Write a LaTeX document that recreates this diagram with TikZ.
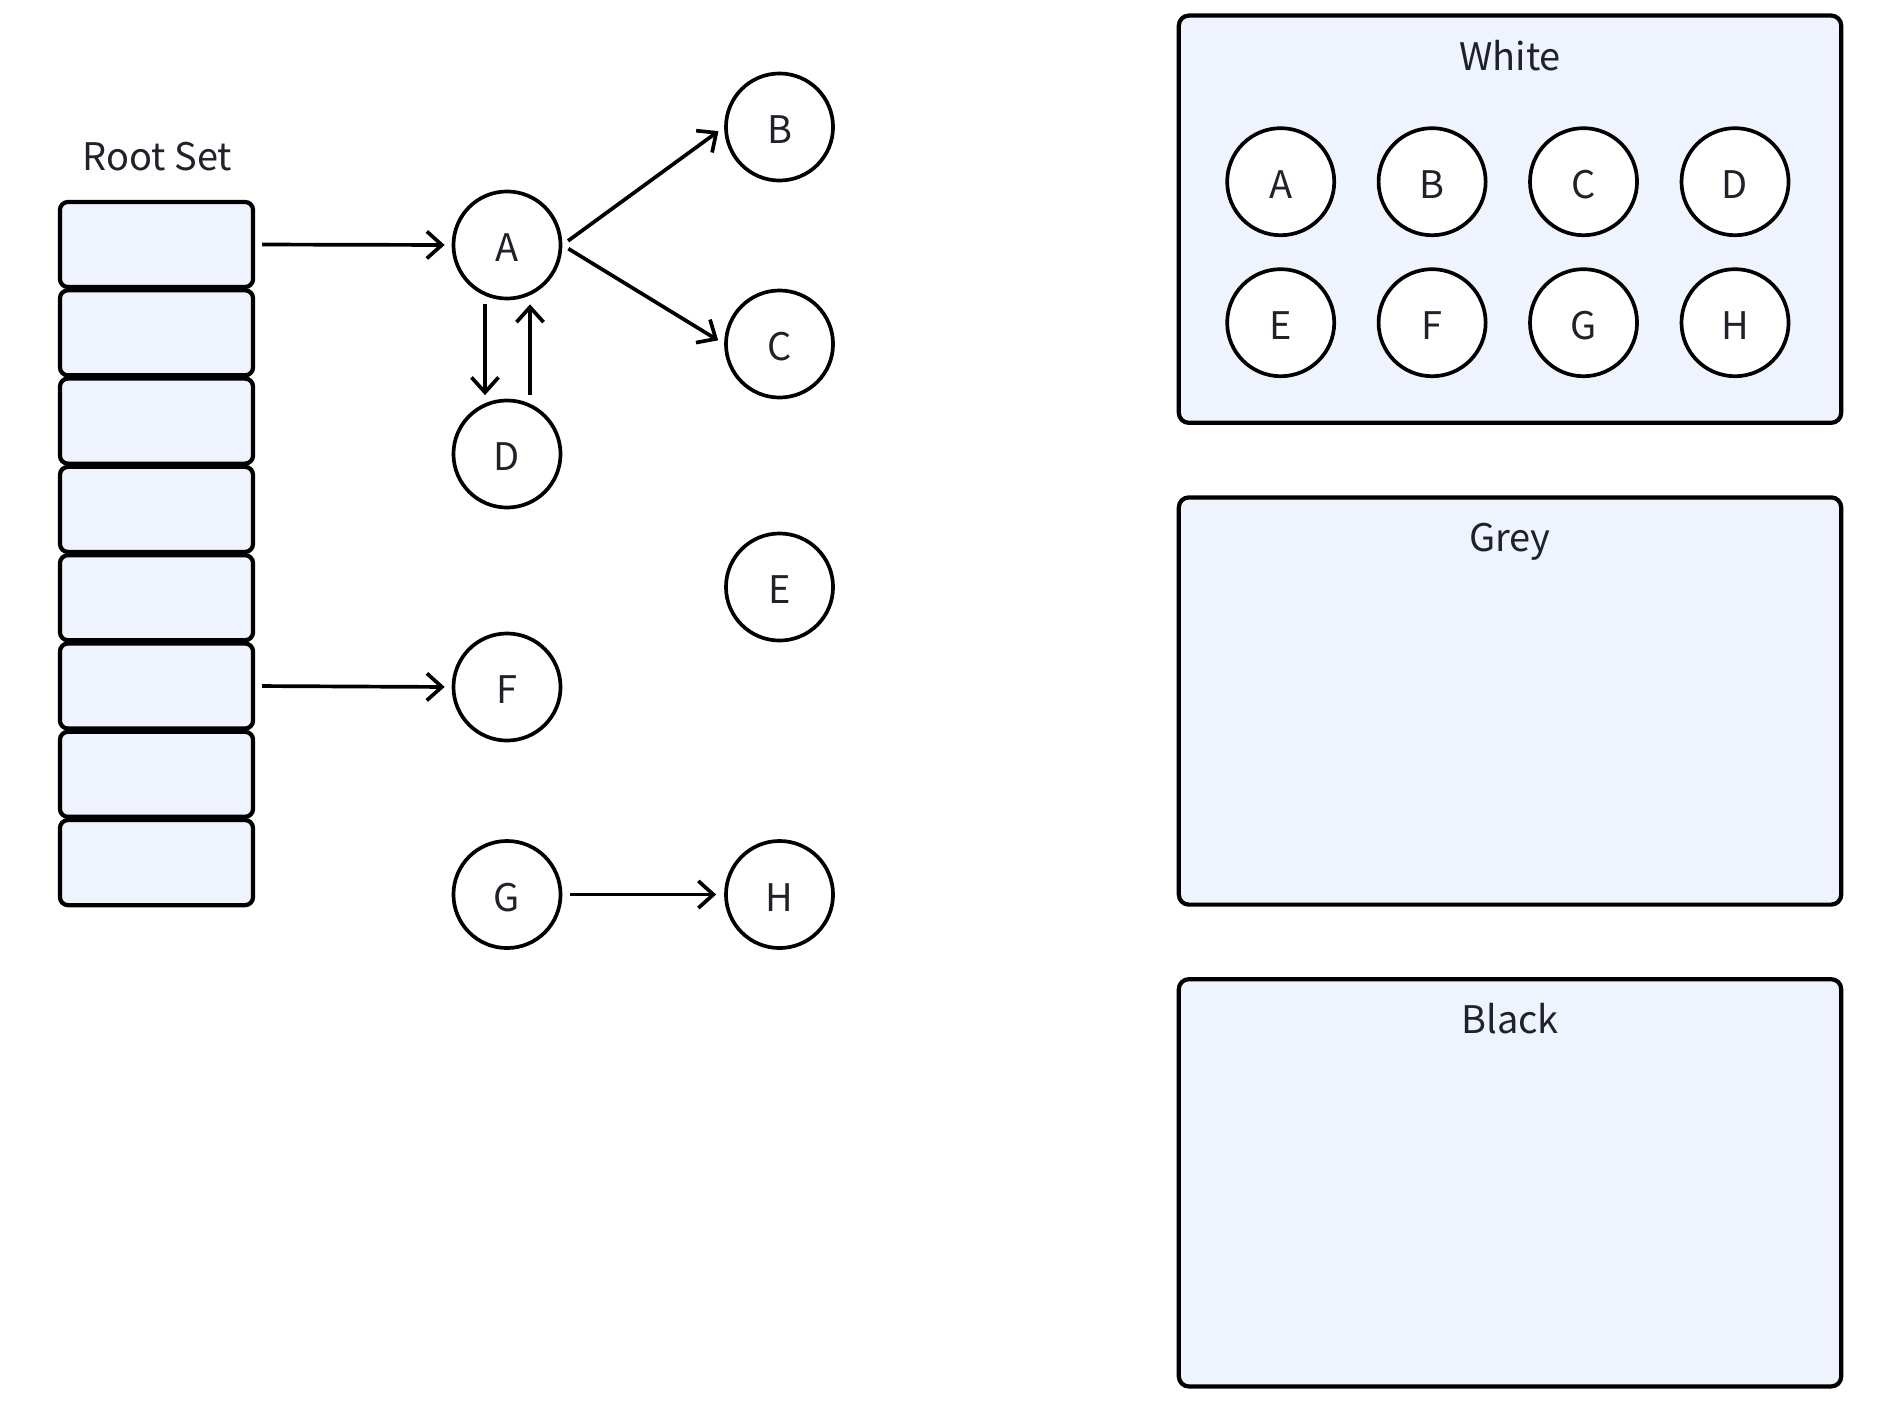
\documentclass[tikz,border=0pt]{standalone}
\usepackage{fontspec}
\setmainfont{Noto Sans CJK SC}
\usetikzlibrary{arrows.meta}
\definecolor{setfill}{HTML}{EEF3FE}
\definecolor{ink}{HTML}{1F2329}
\begin{document}
\begin{tikzpicture}[x=0.01cm, y=-0.01cm,
    font=\fontsize{10.8pt}{12pt}\selectfont, text=ink,
    obj/.style={circle, draw, line width=1.05pt, fill=white, minimum size=1.07cm, inner sep=0pt,
      text height=9.5pt, text depth=0pt},
    slot/.style={rectangle, rounded corners=0.08cm, draw, line width=1.2pt, fill=setfill,
      minimum width=1.93cm, minimum height=0.85cm, inner sep=0pt},
    colorset/.style={rectangle, rounded corners=0.1cm, draw, line width=1.2pt, fill=setfill,
      minimum width=6.62cm, minimum height=4.07cm, inner sep=0pt},
    setlbl/.style={anchor=base},
    pointer/.style={-{Straight Barb[length=0.15cm, width=0.27cm]}, line width=1.05pt}]
  \useasboundingbox (0,0) rectangle (1880,1418);
  % root set
  \draw
    (157.5,170) node[setlbl] (rootlbl) {Root Set}
    (156.5,244.5) node[slot] (r1) {}
    (156.5,332.8) node[slot] (r2) {}
    (156.5,421.1) node[slot] (r3) {}
    (156.5,509.4) node[slot] (r4) {}
    (156.5,597.7) node[slot] (r5) {}
    (156.5,686.0) node[slot] (r6) {}
    (156.5,774.3) node[slot] (r7) {}
    (156.5,862.6) node[slot] (r8) {};
  % object graph
  \draw
    (507,245) node[obj] (A) {A}
    (779.5,127) node[obj] (B) {B}
    (779.5,344) node[obj] (C) {C}
    (507,454) node[obj] (D) {D}
    (779.5,587) node[obj] (E) {E}
    (507,687) node[obj] (F) {F}
    (507,894.5) node[obj] (G) {G}
    (779.5,894.5) node[obj] (H) {H};
  \begin{scope}[pointer]
    \draw[shorten <=0.07cm, shorten >=0.07cm] (r1.east) to (A.west);
    \draw[shorten <=0.07cm, shorten >=0.07cm] (r6.east) to (F.west);
    \draw[shorten <=0.07cm, shorten >=0.07cm] (A.east) to (B.west);
    \draw[shorten <=0.07cm, shorten >=0.07cm] (A.east) to (C.west);
    \draw[shorten <=0.035cm, shorten >=0.035cm] ([xshift=-0.22cm]A.south) to ([xshift=-0.22cm]D.north);
    \draw[shorten <=0.04cm, shorten >=0.04cm] ([xshift=0.23cm]D.north) to ([xshift=0.23cm]A.south);
    \draw[shorten <=0.08cm, shorten >=0.08cm] (G.east) to (H.west);
  \end{scope}
  % colour sets
  \draw
    (1510,219.2) node[colorset] (wset) {}
    (1510,701.0) node[colorset] (gset) {}
    (1510,1182.8) node[colorset] (bset) {}
    (1510,70) node[setlbl] (wlbl) {White}
    (1510,551.5) node[setlbl] (glbl) {Grey}
    (1510,1033.5) node[setlbl] (blbl) {Black};
  \draw
    (1280.7,181.7) node[obj] (wA) {A}
    (1432.1,181.7) node[obj] (wB) {B}
    (1583.5,181.7) node[obj] (wC) {C}
    (1735.0,181.7) node[obj] (wD) {D}
    (1280.7,322.7) node[obj] (wE) {E}
    (1432.1,322.7) node[obj] (wF) {F}
    (1583.5,322.7) node[obj] (wG) {G}
    (1735.0,322.7) node[obj] (wH) {H};
\end{tikzpicture}
\end{document}
